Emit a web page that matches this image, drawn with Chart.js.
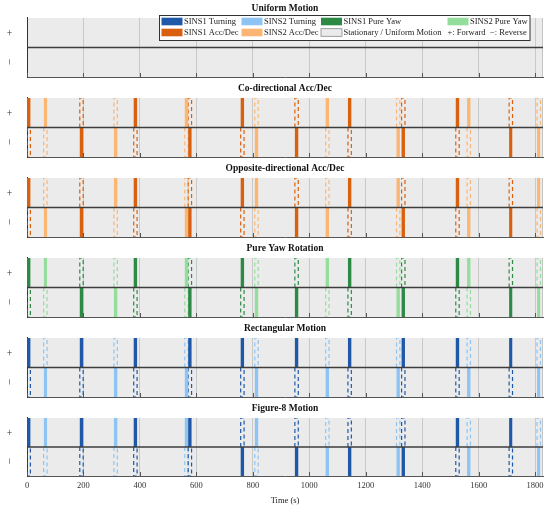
<!DOCTYPE html>
<html>
<head>
<meta charset="utf-8">
<script src="https://cdn.jsdelivr.net/npm/chart.js@4.4.0/dist/chart.umd.min.js"></script>
<style>
  body { margin: 0; background: #fff; width: 550px; height: 508px; overflow: hidden; }
  .panel { position: absolute; left: 0; width: 550px; }
</style>
</head>
<body>
<div class="panel" style="top:0px"><canvas id="p0" width="550" height="80"></canvas></div>
<div class="panel" style="top:80px"><canvas id="p1" width="550" height="80"></canvas></div>
<div class="panel" style="top:160px"><canvas id="p2" width="550" height="80"></canvas></div>
<div class="panel" style="top:240px"><canvas id="p3" width="550" height="80"></canvas></div>
<div class="panel" style="top:320px"><canvas id="p4" width="550" height="80"></canvas></div>
<div class="panel" style="top:400px"><canvas id="p5" width="550" height="108"></canvas></div>
<script>
// panel titles
var panelTitles = ['Uniform Motion', 'Co-directional Acc/Dec', 'Opposite-directional Acc/Dec',
                   'Pure Yaw Rotation', 'Rectangular Motion', 'Figure-8 Motion'];

// start time (s) of each manoeuvre
var sins1Times = [0, 187, 378, 571, 757, 949, 1137, 1327, 1519, 1708];
var sins2Times = [59, 308, 559, 807, 1058, 1309, 1559, 1807];
var eventSeconds = 12;

// direction of each manoeuvre: 1 = forward (+), -1 = reverse (-)
var uniformSins1 = [];
var uniformSins2 = [];
var coSins1 = [1, -1, 1, -1, 1, -1, 1, -1, 1, -1];
var coSins2 = [1, -1, 1, -1, 1, -1, 1, -1];
var oppSins1 = [1, -1, 1, -1, 1, -1, 1, -1, 1, -1];
var oppSins2 = [-1, 1, -1, 1, -1, 1, -1, 1];
var yawSins1 = [1, -1, 1, -1, 1, -1, 1, -1, 1, -1];
var yawSins2 = [1, -1, 1, -1, 1, -1, 1, -1];
var rectSins1 = [1, 1, 1, 1, 1, 1, 1, 1, 1, 1];
var rectSins2 = [-1, -1, -1, -1, -1, -1, -1, -1];
var fig8Sins1 = [1, 1, 1, 1, -1, -1, -1, -1, 1, 1];
var fig8Sins2 = [1, 1, 1, 1, -1, -1, -1, -1];

var xTicks = [0, 200, 400, 600, 800, 1000, 1200, 1400, 1600, 1800];
var xMax = 1828;
var dirLabels = ['+', '\u2212'];
var dirValues = [0.5, -0.5];

var legendLabels = ['SINS1 Turning', 'SINS2 Turning', 'SINS1 Pure Yaw', 'SINS2 Pure Yaw',
                    'SINS1 Acc/Dec', 'SINS2 Acc/Dec', 'Stationary / Uniform Motion'];
var legendNotes = ['+: Forward', '\u2212: Reverse'];

var colors = {
  blue1: '#1f58a8', blue2: '#8ec4f4',
  green1: '#2c8a45', green2: '#95dd9c',
  orange1: '#d9600f', orange2: '#fcb673',
  bg: '#ebebeb'
};

var FONT = '"Liberation Serif", "Times New Roman", serif';

function solidPoints(times, dirs) {
  var pts = [];
  for (var i = 0; i < dirs.length; i++) {
    var t = times[i];
    pts.push({x: t, y: 0}, {x: t, y: dirs[i]}, {x: t + eventSeconds, y: dirs[i]}, {x: t + eventSeconds, y: 0});
  }
  return pts;
}

function dashedPoints(times, dirs) {
  var pts = [];
  for (var i = 0; i < dirs.length; i++) {
    var t = times[i];
    pts.push({x: t, y: 0}, {x: t, y: -dirs[i]}, {x: t + eventSeconds, y: -dirs[i]}, {x: t + eventSeconds, y: 0});
    pts.push({x: t + eventSeconds, y: null});
  }
  return pts;
}

var panelDecor = {
  id: 'panelDecor',
  beforeDraw: function(chart) {
    var a = chart.chartArea, ctx = chart.ctx;
    ctx.save();
    ctx.fillStyle = colors.bg;
    ctx.fillRect(a.left, a.top, a.right - a.left, a.bottom - a.top);
    ctx.restore();
  },
  afterDatasetsDraw: function(chart) {
    var a = chart.chartArea, ctx = chart.ctx;
    var xs = chart.scales.x, ys = chart.scales.y;
    ctx.save();
    // right edge
    ctx.strokeStyle = '#c4c4c4';
    ctx.lineWidth = 1;
    ctx.beginPath(); ctx.moveTo(a.right - 0.5, a.top); ctx.lineTo(a.right - 0.5, a.bottom); ctx.stroke();
    // zero line
    var y0 = ys.getPixelForValue(0);
    ctx.strokeStyle = '#3c3c3c';
    ctx.lineWidth = 1.4;
    ctx.beginPath(); ctx.moveTo(a.left, y0); ctx.lineTo(a.right, y0); ctx.stroke();
    // inner tick marks
    ctx.strokeStyle = '#555';
    ctx.lineWidth = 1;
    xs.ticks.forEach(function(t) {
      var px = Math.round(xs.getPixelForValue(t.value)) + 0.5;
      ctx.beginPath(); ctx.moveTo(px, a.bottom); ctx.lineTo(px, a.bottom - 4); ctx.stroke();
    });
    // + / - direction labels, rotated like the original
    ctx.fillStyle = '#333';
    ctx.font = '11px ' + FONT;
    ctx.textAlign = 'center';
    ctx.textBaseline = 'middle';
    dirLabels.forEach(function(lab, i) {
      var py = ys.getPixelForValue(dirValues[i]);
      ctx.save();
      ctx.translate(10, py);
      ctx.rotate(-Math.PI / 2);
      ctx.fillText(lab, 0, 0);
      ctx.restore();
    });
    ctx.restore();
  }
};

var legendBox = {
  id: 'legendBox',
  afterDraw: function(chart) {
    var ctx = chart.ctx;
    ctx.save();
    ctx.fillStyle = '#fff';
    ctx.fillRect(159.5, 15.5, 370.5, 25);
    ctx.strokeStyle = '#333';
    ctx.lineWidth = 1;
    ctx.strokeRect(159.5, 15.5, 370.5, 25);
    var cols = [161.5, 241.5, 321, 447.5];
    var rows = [21.5, 32.5];
    var sw = [colors.blue1, colors.blue2, colors.green1, colors.green2,
              colors.orange1, colors.orange2, colors.bg];
    ctx.font = '8.5px ' + FONT;
    ctx.textBaseline = 'middle';
    ctx.textAlign = 'left';
    for (var i = 0; i < legendLabels.length; i++) {
      var cx = cols[i % 4], cy = rows[Math.floor(i / 4)];
      ctx.fillStyle = sw[i];
      ctx.fillRect(cx, cy - 3.8, 21, 7.6);
      if (i === 6) {
        ctx.strokeStyle = '#888';
        ctx.lineWidth = 0.8;
        ctx.strokeRect(cx, cy - 3.8, 21, 7.6);
      }
      ctx.fillStyle = '#222';
      ctx.fillText(legendLabels[i], cx + 22.5, cy + 0.5);
    }
    ctx.fillText(legendNotes[0], cols[3], rows[1] + 0.5);
    ctx.fillText(legendNotes[1], 490, rows[1] + 0.5);
    ctx.restore();
  }
};

function makePanel(id, title, dirs1, dirs2, c1, c2, last, extraPlugins) {
  var datasets = [
    {data: solidPoints(sins1Times, dirs1), borderWidth: 0, backgroundColor: c1, borderColor: c1, fill: 'origin', pointRadius: 0},
    {data: solidPoints(sins2Times, dirs2), borderWidth: 0, backgroundColor: c2, borderColor: c2, fill: 'origin', pointRadius: 0},
    {data: dashedPoints(sins1Times, dirs1), borderWidth: 1.2, borderColor: c1, borderDash: [4, 3], fill: false, pointRadius: 0},
    {data: dashedPoints(sins2Times, dirs2), borderWidth: 1.2, borderColor: c2, borderDash: [4, 3], fill: false, pointRadius: 0}
  ];
  return new Chart(document.getElementById(id), {
    type: 'line',
    data: {datasets: datasets},
    plugins: [panelDecor].concat(extraPlugins || []),
    options: {
      responsive: false,
      animation: false,
      events: [],
      layout: {padding: {left: 0, right: 7, top: 0, bottom: last ? 0 : 3}},
      plugins: {
        legend: {display: false},
        tooltip: {enabled: false},
        title: {
          display: true,
          fullSize: false,
          text: title,
          color: '#111',
          font: {family: FONT, size: 9.5, weight: 'bold'},
          padding: {top: 3, bottom: 3.5}
        }
      },
      scales: {
        x: {
          type: 'linear',
          min: 0,
          max: xMax,
          afterBuildTicks: function(scale) {
            scale.ticks = xTicks.map(function(v) { return {value: v}; });
          },
          afterFit: function(scale) { if (last) scale.height = 32; },
          grid: {color: '#c9c9c9', lineWidth: 1, drawTicks: false},
          border: {display: true, color: '#555', width: 1},
          ticks: {
            display: last,
            padding: 5,
            color: '#333',
            maxRotation: 0,
            font: {family: FONT, size: 8.5},
            callback: function(v) { return String(v); }
          },
          title: {
            display: last,
            text: 'Time (s)',
            color: '#222',
            font: {family: FONT, size: 8.5},
            padding: {top: 4, bottom: 2}
          }
        },
        y: {
          min: -1,
          max: 1,
          afterFit: function(scale) { scale.width = 27; },
          ticks: {display: false},
          grid: {display: false},
          border: {display: true, color: '#333', width: 1}
        }
      }
    }
  });
}

makePanel('p0', panelTitles[0], uniformSins1, uniformSins2, colors.orange1, colors.orange2, false, [legendBox]);
makePanel('p1', panelTitles[1], coSins1, coSins2, colors.orange1, colors.orange2, false);
makePanel('p2', panelTitles[2], oppSins1, oppSins2, colors.orange1, colors.orange2, false);
makePanel('p3', panelTitles[3], yawSins1, yawSins2, colors.green1, colors.green2, false);
makePanel('p4', panelTitles[4], rectSins1, rectSins2, colors.blue1, colors.blue2, false);
makePanel('p5', panelTitles[5], fig8Sins1, fig8Sins2, colors.blue1, colors.blue2, true);
</script>
</body>
</html>
